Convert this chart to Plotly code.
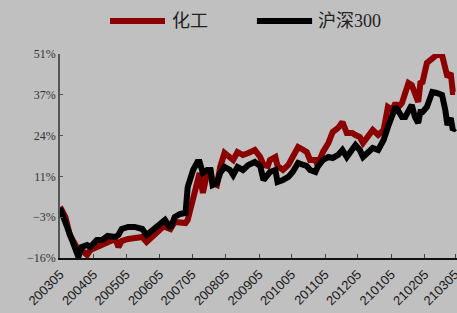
import plotly.graph_objects as go

dates = [
    "2020-03-05", "2020-03-10", "2020-03-14", "2020-03-19", "2020-03-22", "2020-03-25",
    "2020-03-30", "2020-04-02", "2020-04-08", "2020-04-13", "2020-04-18", "2020-04-25",
    "2020-04-28", "2020-05-01", "2020-05-07", "2020-05-13", "2020-05-20", "2020-05-24",
    "2020-05-29", "2020-06-04", "2020-06-08", "2020-06-10", "2020-06-15", "2020-06-19",
    "2020-06-24", "2020-06-29", "2020-07-01", "2020-07-06", "2020-07-10", "2020-07-12",
    "2020-07-15", "2020-07-19", "2020-07-22", "2020-07-24", "2020-07-28", "2020-07-31",
    "2020-08-04", "2020-08-09", "2020-08-12", "2020-08-16", "2020-08-21", "2020-08-26",
    "2020-09-01", "2020-09-06", "2020-09-09", "2020-09-13", "2020-09-15", "2020-09-20",
    "2020-09-22", "2020-09-27", "2020-10-02", "2020-10-06", "2020-10-11", "2020-10-16",
    "2020-10-19", "2020-10-22", "2020-10-27", "2020-10-29", "2020-11-03", "2020-11-08",
    "2020-11-12", "2020-11-17", "2020-11-21", "2020-11-25", "2020-11-30", "2020-12-03",
    "2020-12-07", "2020-12-10", "2020-12-15", "2020-12-19", "2020-12-24", "2020-12-29",
    "2021-01-02", "2021-01-06", "2021-01-09", "2021-01-11", "2021-01-15", "2021-01-18",
    "2021-01-21", "2021-01-24", "2021-01-27", "2021-01-30", "2021-02-01", "2021-02-03",
    "2021-02-07", "2021-02-12", "2021-02-16", "2021-02-21", "2021-02-24", "2021-02-26",
    "2021-03-01", "2021-03-03", "2021-03-05",
]

chem = [
    0.75, -2.53, -8.44, -11.72, -13.37, -13.37,
    -15.0, -13.37, -12.38, -11.72, -11.07, -9.75,
    -12.38, -10.41, -9.75, -9.43, -9.1, -10.74,
    -9.1, -6.80, -5.81, -5.81, -6.47, -4.17,
    -4.50, -4.50, -3.52, 3.05, 9.62, 11.92,
    5.35, 11.92, 13.23, 8.64, 7.98, 13.89,
    18.49, 17.17, 16.19, 18.82, 17.83, 18.49,
    19.47, 17.17, 14.55, 14.22, 16.19, 17.17,
    14.22, 12.91, 14.55, 17.17, 20.46, 19.47,
    18.82, 16.19, 16.19, 14.55, 18.82, 21.77,
    25.38, 26.70, 28.67, 25.06, 25.06, 24.40,
    23.74, 21.77, 23.74, 26.04, 24.40, 26.04,
    33.59, 32.61, 34.91, 33.27, 34.91, 38.52,
    41.48, 40.82, 37.54, 35.24, 41.48, 41.80,
    48.04, 49.69, 50.67, 50.67, 44.76, 43.45,
    44.76, 38.52, 38.52,
]

hs300 = [
    0.43, -4.17, -7.78, -13.37, -15.67, -12.38,
    -11.72, -12.38, -10.08, -10.08, -8.77, -9.1,
    -8.44, -6.47, -5.81, -5.81, -6.47, -8.44,
    -6.80, -4.83, -4.17, -3.52, -6.14, -2.53,
    -1.54, -1.22, 7.32, 12.91, 15.53, 15.53,
    11.92, 12.91, 12.91, 7.98, 8.64, 11.92,
    13.89, 12.91, 11.26, 13.89, 12.91, 14.55,
    15.53, 14.22, 9.62, 11.26, 12.25, 12.91,
    8.96, 9.62, 10.61, 12.25, 15.20, 14.55,
    14.22, 12.91, 12.25, 13.89, 16.19, 17.17,
    16.85, 17.83, 19.47, 17.17, 19.47, 21.12,
    19.47, 17.17, 18.82, 20.13, 19.47, 22.76,
    27.03, 30.31, 33.59, 32.61, 30.31, 30.31,
    32.61, 34.25, 30.31, 28.34, 31.95, 31.95,
    33.59, 38.52, 38.19, 37.54, 32.61, 27.68,
    29.98, 26.04, 26.70,
]

series_names = ["化工", "沪深300"]
series_colors = ["#8b0000", "#000000"]

y_tickvals = [-16, -2.6, 10.8, 24.2, 37.6, 51]
y_ticktext = ["−16%", "−3%", "11%", "24%", "37%", "51%"]

x_tickvals = ["2020-03-05", "2020-04-05", "2020-05-05", "2020-06-05", "2020-07-05",
              "2020-08-05", "2020-09-05", "2020-10-05", "2020-11-05", "2020-12-05",
              "2021-01-05", "2021-02-05", "2021-03-05"]
x_ticktext = ["200305", "200405", "200505", "200605", "200705", "200805", "200905",
              "201005", "201105", "201205", "210105", "210205", "210305"]

FONT = "Liberation Serif, 'Noto Sans CJK SC', serif"
XFONT = "Liberation Sans, Arial, sans-serif"
BG = "#c0c0c0"

fig = go.Figure()
for name, vals, col in zip(series_names, [chem, hs300], series_colors):
    fig.add_trace(go.Scatter(x=dates, y=vals, mode="lines", name=name,
                             line=dict(color=col, width=6), showlegend=False))

# custom legend (line samples + labels) above the plot
legend_items = [(0.126, 0.2645, 0.277), (0.496, 0.635, 0.645)]
for (x0, x1, xt), name, col in zip(legend_items, series_names, series_colors):
    fig.add_shape(type="line", xref="paper", yref="paper", x0=x0, x1=x1,
                  y0=1.162, y1=1.162, line=dict(color=col, width=6))
    fig.add_annotation(xref="paper", yref="paper", x=xt, y=1.162, text=name,
                       showarrow=False, xanchor="left", yanchor="middle",
                       font=dict(family=FONT, size=18, color="#222222"))

fig.update_layout(
    width=457, height=313,
    margin=dict(l=60, r=0, t=54, b=55, autoexpand=False),
    paper_bgcolor=BG, plot_bgcolor=BG,
    font=dict(family=FONT, color="#333333"),
)
fig.update_xaxes(
    type="date", range=["2020-03-05", "2021-03-06 20:00"],
    tickvals=x_tickvals, ticktext=x_ticktext, tickangle=-45,
    tickfont=dict(family=XFONT, size=13, color="#1a1a1a"), automargin=False,
    ticklabeloverflow="allow", ticklabelstandoff=2,
    showgrid=False, zeroline=False,
    showline=True, linecolor="#111111", linewidth=1.5,
    ticks="inside", ticklen=4, tickcolor="#444444",
)
fig.update_yaxes(
    range=[-16, 51], tickvals=y_tickvals, ticktext=y_ticktext,
    tickfont=dict(size=12, color="#333333"), automargin=False,
    showgrid=False, zeroline=False,
    showline=True, linecolor="#555555", linewidth=1.5,
    ticks="inside", ticklen=3, tickcolor="#555555",
)

fig.write_html(
    "out.html",
    config={"displayModeBar": False},
    post_script="document.body.style.margin='0';document.body.style.background='#c0c0c0';",
)
